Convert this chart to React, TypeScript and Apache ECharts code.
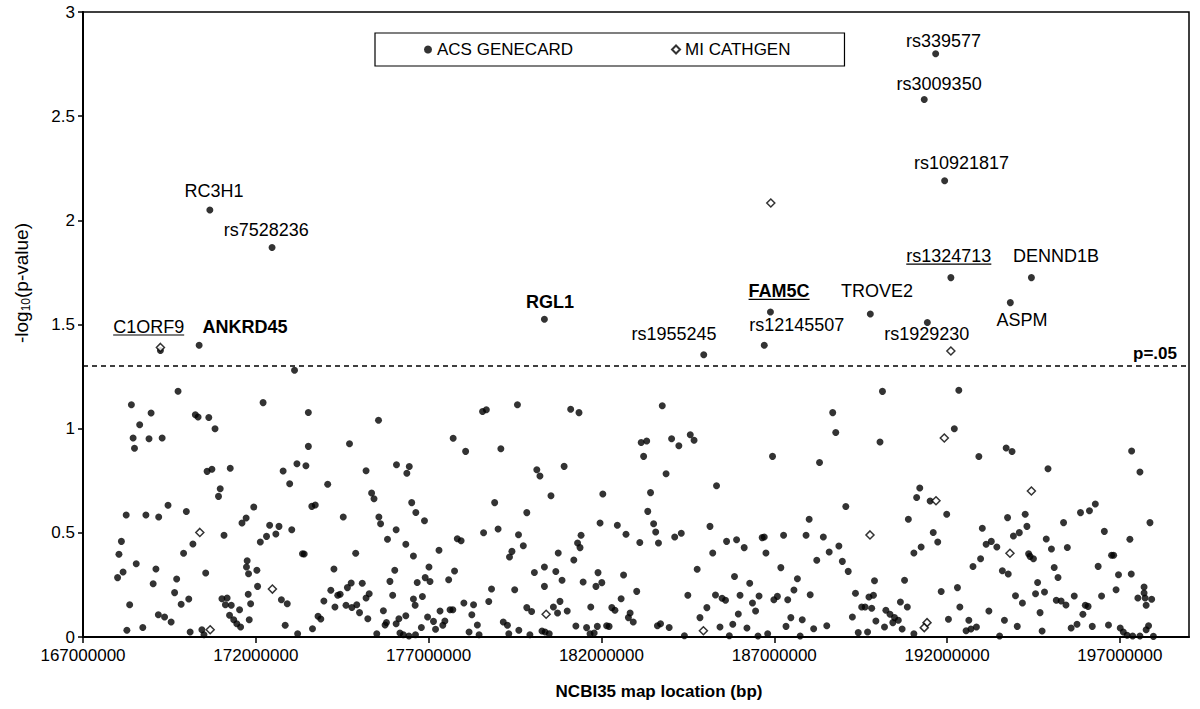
import React, { useEffect, useRef } from "react";
import * as echarts from "echarts";

// Positions in Mb (converted to bp for the axis), values are -log10(p)
const ACS_POS: number[] = [
  170.67, 172.47, 169.24, 170.36, 180.35, 191.67, 191.34, 191.93, 192.11, 194.44, 193.83, 186.89, 189.78, 191.43, 184.96, 186.71, 173.12,
  169.75, 168.40, 172.21, 168.97, 170.25, 170.33, 170.64, 168.64, 170.82, 168.45, 168.91, 169.29, 168.49, 173.19, 170.59, 170.73, 171.26, 172.79, 172.98, 170.97, 170.92,
  168.25, 168.82, 169.19, 169.46, 169.99, 171.94, 171.72, 171.60, 172.40, 172.67, 173.04, 172.58, 172.31, 172.13, 168.11, 168.04, 168.16, 168.00, 168.54, 169.11, 169.03,
  169.91, 170.18, 171.08, 169.71, 170.55, 171.75, 171.73, 171.79, 172.03, 172.05, 169.65, 170.06, 169.84, 168.35, 171.02, 171.17, 171.12, 171.29, 171.85, 171.78, 172.74,
  172.91, 171.53, 171.24, 171.36, 171.45, 171.56, 171.81, 169.18, 169.36, 169.55, 168.27, 168.73, 170.10, 170.44, 170.50, 172.85, 173.21,
  173.52, 175.55, 173.52, 174.71, 173.45, 174.08, 175.19, 176.07, 176.44, 176.37, 175.35, 175.42, 173.62, 173.72, 174.53, 175.56, 175.61, 176.51, 176.63, 176.88, 176.06,
  175.81, 176.34, 176.56, 177.30, 177.01, 176.90, 177.04, 176.67, 176.02, 175.88, 175.96, 176.56, 176.61, 176.82, 173.35, 173.40, 174.89, 174.26, 174.17, 174.44, 174.37,
  174.65, 174.76, 175.08, 175.28, 175.19, 173.97, 174.29, 174.61, 174.78, 174.92, 175.00, 175.24, 173.80, 173.88, 173.64, 175.69, 175.78, 175.74, 175.50, 176.06,
  176.14, 176.34, 176.17, 176.27, 176.43, 176.62, 176.79, 176.97, 177.14, 177.20, 177.33, 177.47, 177.41, 177.58, 177.75, 177.71, 178.07, 178.56, 178.67, 179.09, 179.57,
  177.83, 177.94, 178.59, 178.91, 179.01, 179.60, 179.41, 179.34, 179.49, 178.82, 178.74, 178.30, 178.02, 177.62, 177.70, 178.25, 178.41, 178.17, 178.46, 179.16, 179.28,
  179.32, 179.61,
  181.11, 181.35, 180.13, 180.22, 180.92, 180.54, 179.84, 179.74, 180.75, 181.41, 181.31, 181.38, 181.20, 180.06, 180.35, 180.68, 180.86, 180.35, 181.47, 181.90, 181.84,
  182.01, 182.04, 181.96, 182.46, 182.71, 182.64, 183.02, 182.57, 181.69, 182.30, 182.39, 182.83, 182.78, 182.92, 182.15, 182.22, 181.88, 181.79, 181.67, 181.57, 181.26,
  180.80, 180.61, 180.73, 181.01, 179.84, 179.98, 179.93, 180.28, 180.37, 180.49, 183.15, 183.31, 183.22, 183.76, 184.03, 184.24, 184.57, 184.68, 183.87, 185.33, 183.42,
  183.34, 183.51, 183.57, 183.65, 183.11, 184.12, 184.31, 185.14, 185.22, 184.77, 185.62, 185.91, 185.85, 184.50, 185.30, 185.49, 185.59, 186.01, 185.96, 185.05, 184.85,
  183.62, 183.71, 183.96, 184.40, 185.43, 185.70, 185.80,
  190.13, 192.34, 188.69, 188.78, 190.06, 192.21, 186.95, 188.31, 189.07, 191.21, 191.12, 191.51, 191.99, 190.88, 188.01, 191.60, 191.73, 191.25, 191.04, 186.13, 186.65,
  186.71, 186.76, 187.27, 187.92, 188.42, 188.87, 188.59, 188.23, 188.97, 189.14, 187.19, 186.29, 187.67, 187.57, 186.56, 186.99, 187.09, 187.39, 188.04, 186.37, 186.46,
  186.21, 186.53, 186.81, 187.34, 187.48, 187.81, 188.14, 188.52, 187.75, 189.35, 189.26, 189.53, 189.63, 189.82, 189.74, 189.87, 189.90, 189.43, 189.70, 189.94, 190.19,
  190.23, 190.35, 190.48, 190.59, 190.43, 190.70, 190.65, 190.85, 190.77, 191.04, 191.83, 192.04, 192.30, 192.37,
  193.71, 193.88, 192.92, 194.92, 197.34, 197.58, 196.29, 196.12, 195.86, 195.37, 194.26, 193.75, 194.31, 194.09, 193.92, 193.02, 193.13, 193.28, 193.44, 192.97, 192.75,
  194.36, 194.40, 194.50, 193.60, 193.77, 194.87, 195.02, 195.48, 196.55, 196.76, 196.82, 196.37, 197.29, 197.87, 197.33, 196.96, 196.89, 195.10, 195.21, 194.62, 194.56,
  194.82, 193.98, 194.18, 193.21, 195.16, 195.30, 195.44, 195.68, 196.47, 196.00, 196.08, 195.93, 194.69, 193.66, 194.03, 192.63, 192.55, 192.69, 192.85, 193.52, 194.75,
  195.59, 195.76, 196.20, 196.67, 197.70, 197.70, 197.52, 197.73, 197.92, 197.76, 197.01, 197.10, 197.21, 197.37, 197.58, 197.76, 197.83, 197.97,
];

const ACS_VAL: number[] = [
  2.05, 1.87, 1.375, 1.40, 1.525, 2.80, 2.58, 2.19, 1.725, 1.725, 1.605, 1.56, 1.55, 1.51, 1.355, 1.40, 1.28,
  1.18, 1.115, 1.125, 1.075, 1.067, 1.056, 1.054, 1.019, 1.0, 0.955, 0.952, 0.955, 0.906, 0.832, 0.795, 0.805, 0.81, 0.797, 0.736, 0.712, 0.675,
  0.586, 0.586, 0.576, 0.632, 0.602, 0.624, 0.571, 0.547, 0.536, 0.531, 0.515, 0.494, 0.483, 0.456, 0.459, 0.397, 0.312, 0.285, 0.352, 0.326, 0.256,
  0.402, 0.446, 0.488, 0.278, 0.307, 0.366, 0.336, 0.304, 0.32, 0.243, 0.213, 0.182, 0.157, 0.155, 0.184, 0.187, 0.155, 0.152, 0.16, 0.205, 0.179,
  0.16, 0.131, 0.104, 0.083, 0.064, 0.048, 0.083, 0.107, 0.096, 0.072, 0.032, 0.046, 0.024, 0.035, 0.011, 0.056, 0.016,
  1.078, 1.04, 0.915, 0.928, 0.822, 0.733, 0.798, 0.827, 0.818, 0.786, 0.691, 0.664, 0.627, 0.634, 0.576, 0.576, 0.544, 0.645, 0.598, 0.558, 0.515,
  0.469, 0.445, 0.389, 0.416, 0.336, 0.285, 0.266, 0.262, 0.32, 0.267, 0.20, 0.182, 0.152, 0.194, 0.40, 0.398, 0.402, 0.326, 0.224, 0.205, 0.20,
  0.237, 0.259, 0.258, 0.208, 0.187, 0.173, 0.144, 0.152, 0.142, 0.155, 0.117, 0.088, 0.10, 0.086, 0.04, 0.126, 0.07, 0.058, 0.016, 0.064,
  0.088, 0.102, 0.019, 0.011, 0.005, 0.011, 0.046, 0.096, 0.075, 0.037, 0.125, 0.077, 0.056, 0.275, 0.317, 0.954, 0.891, 1.082, 1.091, 0.904, 1.115,
  0.472, 0.462, 0.50, 0.645, 0.518, 0.491, 0.411, 0.384, 0.227, 0.23, 0.17, 0.155, 0.163, 0.131, 0.131, 0.107, 0.058, 0.024, 0.011, 0.072, 0.056,
  0.016, 0.032,
  1.093, 1.077, 0.803, 0.773, 0.819, 0.678, 0.597, 0.438, 0.403, 0.488, 0.451, 0.429, 0.37, 0.31, 0.336, 0.314, 0.272, 0.243, 0.264, 0.309, 0.243,
  0.261, 0.686, 0.547, 0.536, 0.493, 0.298, 0.219, 0.184, 0.144, 0.141, 0.128, 0.115, 0.093, 0.072, 0.054, 0.051, 0.051, 0.019, 0.016, 0.045, 0.053,
  0.171, 0.144, 0.115, 0.125, 0.141, 0.122, 0.011, 0.029, 0.024, 0.016, 0.934, 0.941, 0.867, 1.11, 0.952, 0.918, 0.971, 0.944, 0.784, 0.726, 0.693,
  0.603, 0.544, 0.504, 0.451, 0.454, 0.48, 0.498, 0.531, 0.403, 0.325, 0.459, 0.467, 0.29, 0.20, 0.202, 0.186, 0.176, 0.20, 0.11, 0.141, 0.093,
  0.054, 0.064, 0.046, 0.006, 0.048, 0.006, 0.061,
  1.179, 1.184, 1.077, 0.982, 0.936, 1.0, 0.867, 0.838, 0.626, 0.715, 0.67, 0.653, 0.589, 0.565, 0.565, 0.502, 0.456, 0.432, 0.403, 0.429, 0.477,
  0.48, 0.403, 0.488, 0.488, 0.48, 0.437, 0.408, 0.368, 0.363, 0.315, 0.333, 0.258, 0.28, 0.226, 0.197, 0.179, 0.195, 0.179, 0.203, 0.163, 0.125,
  0.043, 0.005, 0.016, 0.051, 0.093, 0.083, 0.04, 0.054, 0.005, 0.21, 0.096, 0.144, 0.144, 0.138, 0.192, 0.20, 0.27, 0.021, 0.024, 0.077, 0.048,
  0.128, 0.109, 0.093, 0.08, 0.069, 0.038, 0.168, 0.144, 0.272, 0.016, 0.218, 0.085, 0.237, 0.144,
  0.907, 0.89, 0.866, 0.808, 0.893, 0.792, 0.638, 0.606, 0.597, 0.549, 0.589, 0.573, 0.531, 0.501, 0.485, 0.522, 0.445, 0.459, 0.432, 0.376, 0.338,
  0.40, 0.387, 0.376, 0.318, 0.302, 0.47, 0.422, 0.43, 0.507, 0.392, 0.392, 0.339, 0.469, 0.549, 0.302, 0.299, 0.227, 0.334, 0.286, 0.262, 0.208,
  0.216, 0.198, 0.163, 0.125, 0.176, 0.173, 0.154, 0.197, 0.197, 0.152, 0.147, 0.109, 0.117, 0.08, 0.051, 0.08, 0.03, 0.038, 0.048, 0.005, 0.029,
  0.043, 0.061, 0.051, 0.058, 0.24, 0.211, 0.187, 0.187, 0.181, 0.152, 0.043, 0.024, 0.008, 0.005, 0.005, 0.035, 0.054, 0.003,
];

const MI_POS: number[] = [169.24, 170.38, 172.48, 170.68, 180.40, 184.95, 186.90, 189.77, 191.92, 191.68, 191.42, 191.34, 192.11, 194.44, 193.82];
const MI_VAL: number[] = [1.39, 0.502, 0.23, 0.035, 0.109, 0.03, 2.083, 0.49, 0.955, 0.654, 0.069, 0.045, 1.373, 0.701, 0.402];

// Annotation labels: text and anchor (Mb, value)
const LABEL_TEXT: string[] = [
  "RC3H1", "rs7528236", "C1ORF9", "ANKRD45", "RGL1", "rs339577", "rs3009350", "rs10921817",
  "rs1324713", "DENND1B", "FAM5C", "TROVE2", "rs12145507", "rs1929230", "ASPM", "rs1955245",
];
const LABEL_POS: number[] = [170.79, 172.30, 168.90, 171.69, 180.51, 191.90, 191.77, 192.42, 192.05, 195.15, 187.14, 189.97, 187.65, 191.41, 194.17, 184.10];
const LABEL_VAL: number[] = [2.143, 1.952, 1.488, 1.488, 1.607, 2.863, 2.655, 2.276, 1.828, 1.828, 1.659, 1.659, 1.496, 1.456, 1.52, 1.456];
const LABEL_BOLD: boolean[] = [false, false, false, true, true, false, false, false, false, false, true, false, false, false, false, false];
const LABEL_UNDERLINE: boolean[] = [false, false, true, false, false, false, false, false, true, false, true, false, false, false, false, false];

const X_MIN = 167000000;
const X_MAX = 199000000;
const X_INTERVAL = 5000000;
const THRESHOLD = 1.30103;

const FONT = "'Liberation Sans', Arial, Helvetica, sans-serif";
const FS = 17;
const LFS = 18;

function measure(text: string, font: string): number {
  const c = document.createElement("canvas").getContext("2d");
  if (!c) return text.length * 9;
  c.font = font;
  return c.measureText(text).width;
}

export default function App() {
  const ref = useRef<HTMLDivElement>(null);
  useEffect(() => {
    if (!ref.current) return;
    const chart = echarts.init(ref.current, undefined, { renderer: "svg" });
    const acs = ACS_POS.map((p, i) => [p * 1e6, ACS_VAL[i]]);
    const mi = MI_POS.map((p, i) => [p * 1e6, MI_VAL[i]]);
    const labels = LABEL_POS.map((p, i) => [p * 1e6, LABEL_VAL[i], i]);

    chart.setOption({
      animation: false,
      backgroundColor: "#fff",
      textStyle: { fontFamily: FONT, color: "#000" },
      grid: {
        left: 83,
        right: 11,
        top: 12,
        bottom: 72,
        show: true,
        borderColor: "#000",
        borderWidth: 1.5,
        backgroundColor: "transparent",
      },
      legend: {
        left: 375,
        top: 33,
        padding: [8, 54, 8, 49],
        itemGap: 98,
        itemWidth: 8,
        itemHeight: 8,
        borderColor: "#000",
        borderWidth: 1.2,
        textStyle: { fontSize: FS, color: "#000", fontFamily: FONT },
        data: [
          { name: "ACS GENECARD", icon: "circle" },
          { name: "MI CATHGEN", icon: "diamond" },
        ],
      },
      xAxis: {
        type: "value",
        min: X_MIN,
        max: X_MAX,
        interval: X_INTERVAL,
        name: "NCBI35 map location (bp)",
        nameLocation: "middle",
        nameGap: 46,
        nameTextStyle: { fontSize: FS, fontWeight: "bold", color: "#000", fontFamily: FONT, padding: [0, 0, 0, 46] },
        axisLine: { lineStyle: { color: "#000", width: 2 } },
        axisTick: { show: true, inside: false, length: 6, lineStyle: { color: "#000", width: 1.5 } },
        axisLabel: {
          fontSize: FS,
          color: "#000",
          margin: 10,
          showMaxLabel: false,
          formatter: (v: number) => String(Math.round(v)),
        },
        splitLine: { show: false },
      },
      yAxis: {
        type: "value",
        min: 0,
        max: 3,
        interval: 0.5,
        axisLine: { show: true, lineStyle: { color: "#000", width: 2 } },
        axisTick: { show: true, inside: false, length: 5, lineStyle: { color: "#000", width: 1.5 } },
        axisLabel: { fontSize: FS, color: "#000", margin: 8 },
        splitLine: { show: false },
      },
      graphic: [
        {
          type: "text",
          x: 21,
          y: 283,
          rotation: Math.PI / 2,
          style: {
            text: "{a|-log}{b|10}{a|(p-value)}",
            align: "center",
            verticalAlign: "middle",
            rich: {
              a: { fontSize: 19, fontFamily: FONT, fill: "#000", color: "#000" },
              b: { fontSize: 12, fontFamily: FONT, fill: "#000", color: "#000", verticalAlign: "bottom", padding: [9, 0, 0, 0] },
            },
          },
        },
      ],
      series: [
        {
          name: "ACS GENECARD",
          type: "scatter",
          symbol: "circle",
          symbolSize: 7,
          itemStyle: { color: "#000" },
          data: acs,
          markLine: {
            silent: true,
            symbol: "none",
            lineStyle: { color: "#000", type: [5, 4], width: 1.5 },
            label: {
              show: true,
              position: "insideEndTop",
              formatter: "p=.05",
              fontSize: FS,
              fontWeight: "bold",
              color: "#000",
              fontFamily: FONT,
              distance: [12, 4],
            },
            data: [{ yAxis: THRESHOLD }],
          },
        },
        {
          name: "MI CATHGEN",
          type: "scatter",
          symbol: "diamond",
          symbolSize: 8,
          itemStyle: { color: "#fff", borderColor: "#000", borderWidth: 1.5 },
          data: mi,
        },
        {
          name: "labels",
          type: "custom",
          silent: true,
          encode: { x: 0, y: 1 },
          data: labels,
          renderItem: (params: any, api: any) => {
            const idx = api.value(2);
            const p = api.coord([api.value(0), api.value(1)]);
            const text = LABEL_TEXT[idx];
            const bold = LABEL_BOLD[idx];
            const font = `${bold ? "bold " : ""}${LFS}px ${FONT}`;
            const w = measure(text, font);
            const children: any[] = [
              {
                type: "text",
                x: p[0],
                y: p[1],
                style: {
                  text,
                  fontSize: LFS,
                  fontWeight: bold ? "bold" : "normal",
                  fontFamily: FONT,
                  fill: "#000",
                  align: "center",
                  verticalAlign: "middle",
                },
              },
            ];
            if (LABEL_UNDERLINE[idx]) {
              children.push({
                type: "line",
                shape: { x1: p[0] - w / 2, y1: p[1] + 8, x2: p[0] + w / 2, y2: p[1] + 8 },
                style: { stroke: "#000", lineWidth: 1.2 },
              });
            }
            return { type: "group", children };
          },
        },
      ],
    });
    return () => chart.dispose();
  }, []);
  return (
    <div
      ref={ref}
      style={{ position: "fixed", left: 0, top: 0, width: 1200, height: 709, background: "#fff" }}
    />
  );
}
